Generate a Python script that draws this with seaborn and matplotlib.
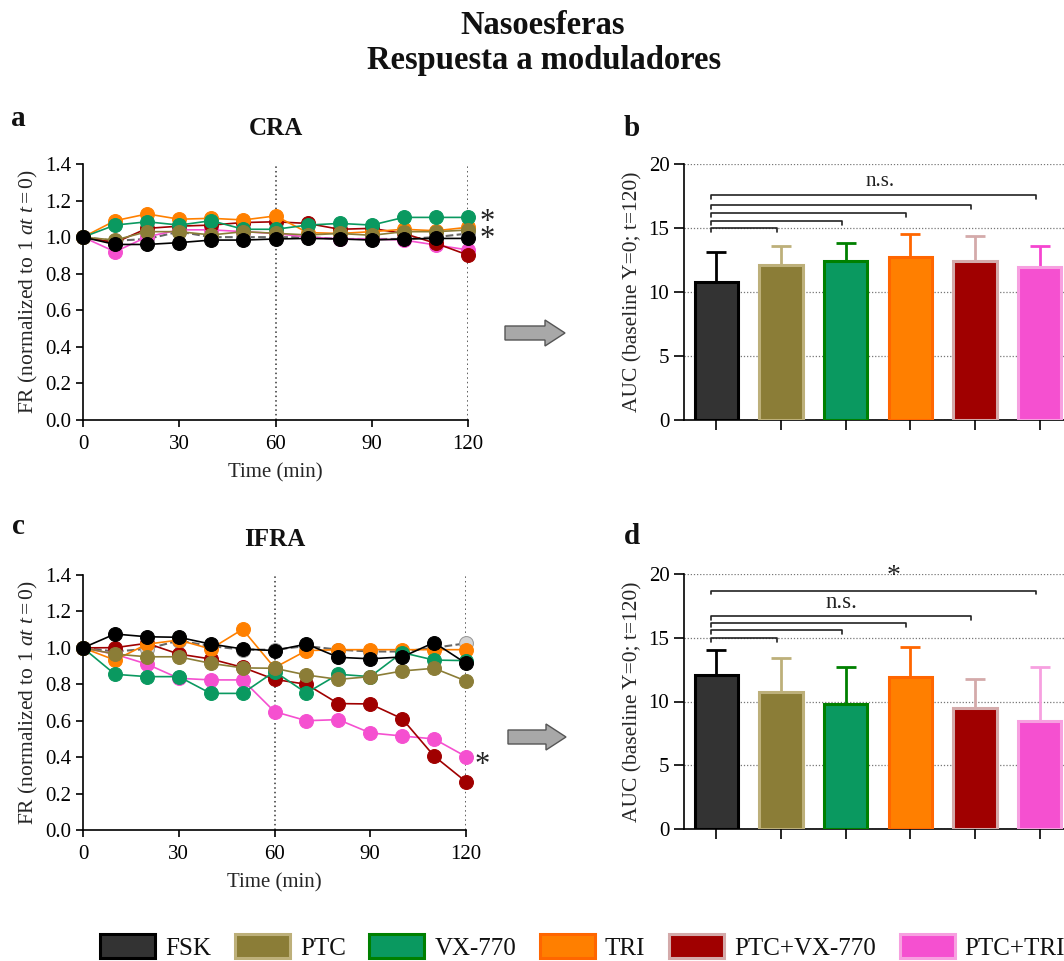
import numpy as np
import pandas as pd
import seaborn as sns
import matplotlib
matplotlib.use("Agg")
import matplotlib.pyplot as plt
from matplotlib.patches import Patch, FancyArrow

# ---------------- data ----------------
times = [0, 10, 20, 30, 40, 50, 60, 70, 80, 90, 100, 110, 120]
groups = ["FSK", "PTC", "VX-770", "TRI", "PTC+VX-770", "PTC+TRI"]

# CRA (panel a)
cra_ctrl = [1.00, 0.98, 0.99, 1.03, 1.00, 1.00, 1.00, 1.00, 0.99, 0.99, 0.99, 1.00, 1.02]
cra_fsk = [1.00, 0.96, 0.96, 0.97, 0.984, 0.984, 0.99, 0.993, 0.99, 0.984, 0.99, 0.993, 0.993]
cra_ptc = [1.00, 0.984, 1.03, 1.03, 1.012, 1.03, 1.021, 1.012, 1.02, 1.01, 1.03, 1.03, 1.039]
cra_vx = [1.00, 1.066, 1.084, 1.066, 1.09, 1.043, 1.043, 1.066, 1.075, 1.066, 1.108, 1.108, 1.108]
cra_tri = [1.00, 1.09, 1.127, 1.098, 1.103, 1.094, 1.116, 1.025, 1.02, 1.03, 1.043, 1.035, 1.054]
cra_ptcvx = [1.00, 0.97, 1.048, 1.06, 1.066, 1.08, 1.084, 1.075, 1.043, 1.048, 1.02, 0.966, 0.902]
cra_ptctri = [1.00, 0.92, 1.002, 1.04, 1.04, 1.03, 1.02, 1.00, 0.99, 0.99, 0.984, 0.957, 0.93]

# IFRA (panel c)
ifra_ctrl = [1.00, 0.98, 0.994, 1.04, 1.01, 0.99, 0.99, 1.01, 0.99, 0.98, 0.98, 1.00, 1.025]
ifra_fsk = [1.00, 1.076, 1.061, 1.058, 1.021, 0.994, 0.985, 1.021, 0.948, 0.94, 0.95, 1.029, 0.915]
ifra_ptc = [1.00, 0.966, 0.951, 0.951, 0.915, 0.89, 0.888, 0.851, 0.827, 0.842, 0.873, 0.888, 0.818]
ifra_vx = [1.00, 0.855, 0.842, 0.842, 0.75, 0.75, 0.87, 0.752, 0.855, 0.842, 0.974, 0.933, 0.93]
ifra_tri = [1.00, 0.933, 1.02, 1.043, 0.994, 1.102, 0.891, 0.985, 0.99, 0.99, 0.99, 0.99, 0.99]
ifra_ptcvx = [1.00, 1.001, 1.025, 0.966, 0.939, 0.893, 0.827, 0.80, 0.694, 0.692, 0.611, 0.406, 0.265]
ifra_ptctri = [1.00, 0.965, 0.911, 0.833, 0.824, 0.824, 0.65, 0.60, 0.606, 0.533, 0.516, 0.50, 0.403]

# AUC bars
auc_cra = [10.75, 12.14, 12.42, 12.76, 12.42, 11.98]
auc_cra_err = [2.40, 1.46, 1.43, 1.77, 1.96, 1.62]
auc_ifra = [12.04, 10.76, 9.82, 11.96, 9.50, 8.49]
auc_ifra_err = [2.01, 2.64, 2.92, 2.32, 2.30, 4.25]

# significance brackets (FSK vs. group i) heights
brk_cra = [15.0, 15.57, 16.15, 16.77, 17.55]
brk_ifra = [15.0, 15.6, 16.15, 16.7, 18.7]

# ---------------- styles ----------------
fills = ["#333333", "#8B7D37", "#0A9960", "#FF7F00", "#A00000", "#F550D0"]
edges = ["#000000", "#BDB07A", "#008000", "#FF6600", "#D4AAAA", "#F7A0E0"]
err_b = ["#000000", "#BDB07A", "#008000", "#FF6600", "#D4AAAA", "#F545D0"]
err_d = ["#000000", "#BDB07A", "#008000", "#FF6600", "#D4AAAA", "#F7A0E0"]
line_cols = {"FSK": "#000000", "PTC": "#8B7D37", "VX-770": "#0A9960",
             "TRI": "#FF8000", "PTC+VX-770": "#A00000", "PTC+TRI": "#F550D0"}

sns.set_style("ticks")
plt.rcParams["font.family"] = ["Liberation Serif", "DejaVu Serif"]
plt.rcParams["mathtext.fontset"] = "custom"
plt.rcParams["mathtext.rm"] = "Liberation Serif"
plt.rcParams["mathtext.it"] = "Liberation Serif:italic"
plt.rcParams["mathtext.bf"] = "Liberation Serif:bold"
plt.rcParams["axes.linewidth"] = 1.2
plt.rcParams["xtick.major.width"] = 1.2
plt.rcParams["ytick.major.width"] = 1.2
plt.rcParams["xtick.major.size"] = 5
plt.rcParams["ytick.major.size"] = 5
plt.rcParams["xtick.color"] = "black"
plt.rcParams["ytick.color"] = "black"
plt.rcParams["axes.edgecolor"] = "black"
plt.rcParams["text.color"] = "#111111"

W, H = 1064, 961
fig = plt.figure(figsize=(W / 100, H / 100), dpi=100)


def fx(px):
    return px / W


def fy(py):
    return 1 - py / H


def line_panel(ax, ctrl, series, star_text, star_pos):
    ax.axvline(60, color="#333333", ls=(0, (1, 2)), lw=1.1, zorder=1)
    ax.axvline(120, color="#333333", ls=(0, (1, 2)), lw=1.1, zorder=1)
    sns.lineplot(x=times, y=ctrl, ax=ax, color="#666666", linestyle="--", lw=1.5,
                 marker="o", markersize=10, markerfacecolor="#D4D4D4",
                 markeredgecolor="#999999", clip_on=False, zorder=2)
    z = 3
    for name in ["PTC+TRI", "PTC+VX-770", "TRI", "VX-770", "PTC", "FSK"]:
        c = line_cols[name]
        sns.lineplot(x=times, y=series[name], ax=ax, color=c, lw=1.2,
                     marker="o", markersize=10, markeredgecolor=c,
                     clip_on=False, zorder=z)
        z += 1
    ax.set_xlim(0, 120)
    ax.set_ylim(0, 1.4)
    ax.set_xticks([0, 30, 60, 90, 120])
    ax.set_yticks(np.arange(0, 1.41, 0.2))
    ax.set_yticklabels([f"{v:.1f}" for v in np.arange(0, 1.41, 0.2)])
    ax.tick_params(labelsize=15, direction="out")
    ax.tick_params(axis="x", pad=6)
    ax.set_xlabel("Time (min)", fontsize=15, labelpad=6.5)
    ax.set_ylabel(r"FR (normalized to 1 $\mathit{at\ t{=}0}$)", fontsize=15.5, labelpad=3.5)
    sns.despine(ax=ax)
    ax.text(star_pos[0], star_pos[1], star_text, fontsize=22, ha="center",
            va="center", linespacing=0.45, clip_on=False, color="#222222")


def bar_panel(ax, vals, errs, errcols, brks, texts):
    sns.barplot(x=groups, y=vals, hue=groups, order=groups, hue_order=groups,
                palette=dict(zip(groups, fills)), saturation=1, width=0.67,
                dodge=False, legend=False, errorbar=None, ax=ax, zorder=3)
    for i, cont in enumerate(ax.containers):
        for bar in cont:
            bar.set_edgecolor(edges[i])
            bar.set_linewidth(2.2)
    for i in range(len(groups)):
        ax.errorbar(i, vals[i], yerr=[[0], [errs[i]]], fmt="none",
                    ecolor=errcols[i], elinewidth=2.0, capsize=7.5,
                    capthick=2.0, zorder=2)
    for i, yb in enumerate(brks):
        x0, x1 = -0.08, i + 1 - 0.06
        ax.plot([x0, x0, x1, x1], [yb - 0.3, yb, yb, yb - 0.3],
                color="#222222", lw=1.2, zorder=4, clip_on=False)
    for (xt, yt, s, fs) in texts:
        ax.text(xt, yt, s, fontsize=fs, ha="center", va="center", color="#222222")
    ax.set_xlim(-0.5, 5.5)
    ax.set_ylim(0, 20)
    ax.set_yticks([0, 5, 10, 15, 20])
    ax.set_xticks(range(6))
    ax.set_xticklabels([""] * 6)
    ax.set_xlabel("")
    ax.set_axisbelow(True)
    ax.yaxis.grid(True, ls=(0, (1, 1.5)), color="#777777", lw=0.9)
    ax.xaxis.grid(False)
    ax.tick_params(labelsize=15, direction="out", length=7)
    ax.set_ylabel("AUC (baseline Y=0; t=120)", fontsize=15.5, labelpad=4.5)
    sns.despine(ax=ax)


# panel a
ax_a = fig.add_axes([fx(83), fy(420), fx(468) - fx(83), fy(164) - fy(420)])
line_panel(ax_a, cra_ctrl,
           dict(zip(groups, [cra_fsk, cra_ptc, cra_vx, cra_tri, cra_ptcvx, cra_ptctri])),
           "*\n*", (126, 1.035))

# panel c
ax_c = fig.add_axes([fx(83), fy(830), fx(466) - fx(83), fy(575) - fy(830)])
line_panel(ax_c, ifra_ctrl,
           dict(zip(groups, [ifra_fsk, ifra_ptc, ifra_vx, ifra_tri, ifra_ptcvx, ifra_ptctri])),
           "*", (125, 0.355))

# panel b
ax_b = fig.add_axes([fx(684), fy(420), fx(1072) - fx(684), fy(164) - fy(420)])
bar_panel(ax_b, auc_cra, auc_cra_err, err_b, brk_cra, [(2.54, 18.6, "n.s.", 15)])

# panel d
ax_d = fig.add_axes([fx(684), fy(829), fx(1072) - fx(684), fy(574) - fy(829)])
bar_panel(ax_d, auc_ifra, auc_ifra_err, err_d, brk_ifra,
          [(1.93, 17.8, "n.s.", 16.5), (2.74, 19.8, "*", 20)])

# titles and labels
fig.text(fx(543), fy(26), "Nasoesferas", fontsize=23.5, weight="bold", ha="center", va="center")
fig.text(fx(544), fy(61), "Respuesta a moduladores", fontsize=23.5, weight="bold",
         ha="center", va="center")
fig.text(fx(276), fy(128), "CRA", fontsize=18, weight="bold", ha="center", va="center")
fig.text(fx(275), fy(540), "IFRA", fontsize=18, weight="bold", ha="center", va="center")
for lab, x, y in [("a", 18, 118), ("b", 632, 128), ("c", 18, 527), ("d", 632, 537)]:
    fig.text(fx(x), fy(y), lab, fontsize=21, weight="bold", ha="center", va="center")

# arrows
for (x0, x1, yc) in [(505, 565, 333), (508, 566, 737)]:
    arr = FancyArrow(fx(x0), fy(yc), fx(x1) - fx(x0), 0, width=14 / H,
                     head_width=26 / H, head_length=20 / W,
                     length_includes_head=True, transform=fig.transFigure,
                     facecolor="#A8A8A8", edgecolor="#555555", lw=1.0)
    fig.patches.append(arr)

# legend
handles = [Patch(facecolor=f, edgecolor=e, linewidth=2.2) for f, e in zip(fills, edges)]
fig.legend(handles, groups, loc="center left", bbox_to_anchor=(fx(100), fy(947)),
           ncol=6, frameon=False, fontsize=18, handlelength=2.2, handleheight=1.1,
           handletextpad=0.4, columnspacing=0.95, borderpad=0, borderaxespad=0)

fig.savefig("out.png", dpi=100)
